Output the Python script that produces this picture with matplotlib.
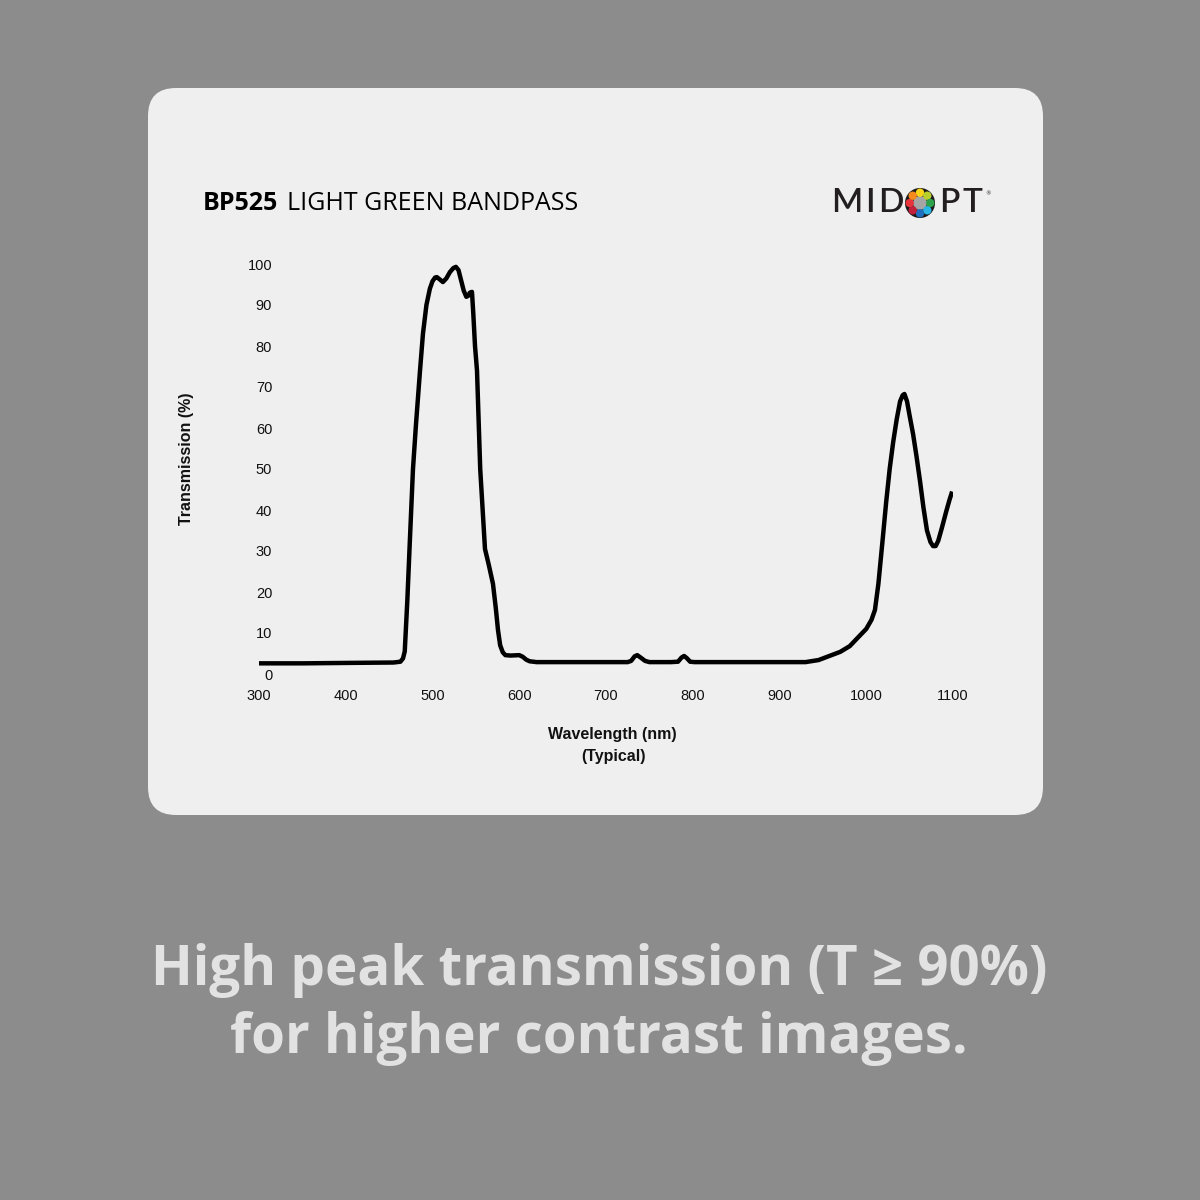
import matplotlib
matplotlib.use("Agg")
import matplotlib.pyplot as plt
import numpy as np
from matplotlib.patches import FancyBboxPatch, Circle

# transmission curve
wavelength = [300, 350, 400, 455, 463, 466, 468, 471, 474, 477.5, 481, 485.6, 489, 493,
              497, 500, 503, 505, 508, 512, 516, 520, 524, 527, 530, 533, 536, 539, 541,
              543, 545.5, 547, 549, 551.3, 555, 560.5, 565, 569.7, 573, 575.5, 578, 581,
              584, 590, 600, 604, 608, 612, 620, 640, 700, 725, 729, 733, 736, 740, 745,
              750, 775, 783, 787, 790, 793, 797, 802, 850, 900, 930, 945, 960, 970, 981,
              990, 1000, 1006, 1010, 1014, 1019, 1023, 1027, 1031, 1035, 1039, 1042, 1044,
              1047, 1050, 1054, 1058, 1062, 1066, 1070, 1074, 1077, 1080, 1083, 1087, 1092,
              1096, 1099]
transmission = [2.6, 2.6, 2.7, 2.8, 3.0, 3.8, 5.5, 18, 33, 50, 61, 74, 83, 90,
                94, 95.8, 96.7, 96.8, 96.3, 95.6, 96.5, 98, 99, 99.3, 98.5, 96, 93.5, 92, 92.2,
                93, 93.2, 88, 80, 74, 50, 30.5, 26.5, 22, 16, 10.7, 7, 5.3,
                4.6, 4.5, 4.6, 4.2, 3.5, 3.1, 2.9, 2.9, 2.9, 2.9, 3.2, 4.3, 4.6, 4.0, 3.2,
                2.9, 2.9, 3.0, 4.0, 4.4, 3.9, 3.0, 2.9, 2.9, 2.9, 2.9, 3.4, 4.6, 5.4, 6.8,
                8.8, 11, 13.2, 15.6, 22, 33, 42, 50, 56.5, 62, 66.5, 68, 68.3,
                66.5, 63, 58.5, 53, 47, 40.5, 35, 32.2, 31.2, 31.2, 32.5, 35.5, 39.5,
                42.5, 44.5]

x_ticks = [300, 400, 500, 600, 700, 800, 900, 1000, 1100]
y_ticks = [0, 10, 20, 30, 40, 50, 60, 70, 80, 90, 100]

BG = "#8c8c8c"
CARD = "#efefef"
INK = "#000000"

fig = plt.figure(figsize=(12, 12), dpi=100)
fig.patch.set_facecolor(BG)

# pixel-space layer for the card, title, logo and caption
bg = fig.add_axes([0, 0, 1, 1])
bg.set_xlim(0, 1200)
bg.set_ylim(1200, 0)
bg.axis("off")

card = FancyBboxPatch((148 + 28, 88 + 28), 895 - 56, 727 - 56,
                      boxstyle="round,pad=28", facecolor=CARD, edgecolor="none")
bg.add_patch(card)

bg.text(203, 204, "BP525", fontsize=18, fontweight="bold", family="Open Sans",
        color=INK, va="center", ha="left")
bg.text(287, 204, "LIGHT GREEN BANDPASS", fontsize=18, family="Open Sans",
        color=INK, va="center", ha="left")

# MIDOPT logo
for ch, cx in zip("MIDPT", [847, 870, 891, 949, 972]):
    bg.text(cx, 203, ch, fontsize=24, family="Lato", fontweight="semibold",
            color="#231f20", ha="center", va="center")
bg.text(988, 194, "®", fontsize=4, color="#231f20", ha="center", va="center")
lx, ly = 920, 203
bg.add_patch(Circle((lx, ly), 15, facecolor="#1a1a1a", edgecolor="none"))
bg.add_patch(Circle((lx, ly), 7, facecolor="#a5a5a5", edgecolor="none"))
dot_colors = ["#f7d417", "#b8cf2c", "#2ea24a", "#28b6e6",
              "#1f6fc0", "#c21f3a", "#e8323c", "#f58a1f"]
for i, c in enumerate(dot_colors):
    a = np.pi / 2 - i * np.pi / 4
    bg.add_patch(Circle((lx + 10.3 * np.cos(a), ly - 10.3 * np.sin(a)), 4.2,
                        facecolor=c, edgecolor="none"))

cap_font = dict(fontsize=39.3, fontweight="bold", family=["Open Sans", "DejaVu Sans"],
                color="#e2e2e2", ha="center", va="center")
bg.text(599, 971, "High peak transmission (T ≥ 90%)", **cap_font)
bg.text(599, 1039, "for higher contrast images.", **cap_font)

# chart
ax = fig.add_axes([259 / 1200, (1200 - 674) / 1200, 694 / 1200, 410 / 1200])
ax.set_facecolor("none")
ax.plot(wavelength, transmission, color=INK, lw=3.2, solid_joinstyle="round",
        solid_capstyle="butt")
ax.set_xlim(300, 1100)
ax.set_ylim(0, 100)
for s in ax.spines.values():
    s.set_visible(False)
ax.set_xticks(x_ticks)
ax.set_xticklabels([str(t) for t in x_ticks], family="Liberation Sans", fontsize=10.5)
ax.set_yticks(y_ticks)
ax.set_yticklabels([str(t) for t in y_ticks], family="Liberation Sans", fontsize=10.5)
ax.tick_params(axis="x", length=0, pad=10.5, colors="#111111")
ax.tick_params(axis="y", length=0, pad=-9.5, colors="#111111")

bg.text(187, 459, "Transmission (%)", rotation=90, fontsize=11.5, fontweight="bold",
        family="Liberation Sans", color="#111111", ha="center", va="center")
bg.text(612, 734, "Wavelength (nm)", fontsize=11.5, fontweight="bold",
        family="Liberation Sans", color="#111111", ha="center", va="center")
bg.text(613, 756, "(Typical)", fontsize=11.5, fontweight="bold",
        family="Liberation Sans", color="#111111", ha="center", va="center")

fig.savefig("out.png", dpi=100, facecolor=BG)
